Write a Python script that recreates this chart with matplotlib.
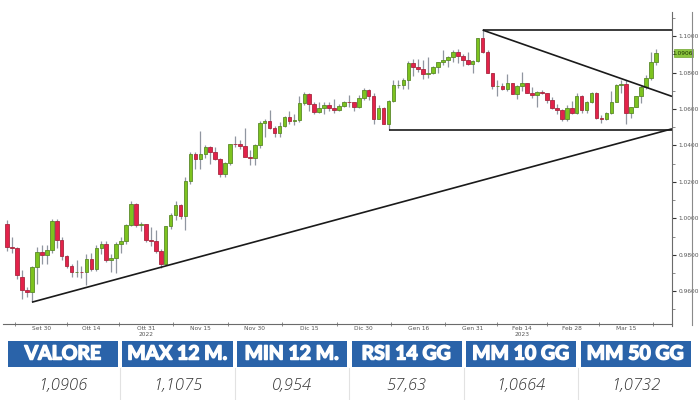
import matplotlib
matplotlib.use("Agg")
import matplotlib.pyplot as plt
import matplotlib.transforms as mtransforms
import matplotlib.patheffects as pe
from matplotlib.patches import Rectangle
import pandas as pd
import numpy as np

# ---------------- data ----------------
start_date = "2022-09-21"
end_date = "2023-03-23"

opens = [0.9970, 0.9840, 0.9838, 0.9680, 0.9608, 0.9594, 0.9735, 0.9815, 0.9801, 0.9824,
         0.9986, 0.9882, 0.9793, 0.9739, 0.9703, 0.9707, 0.9703, 0.9777, 0.9722, 0.9837,
         0.9857, 0.9774, 0.9781, 0.9860, 0.9877, 0.9965, 1.0077, 0.9963, 0.9967, 0.9882,
         0.9878, 0.9820, 0.9750, 0.9960, 1.0020, 1.0072, 1.0013, 1.0205, 1.0355, 1.0327,
         1.0353, 1.0392, 1.0362, 1.0324, 1.0243, 1.0302, 1.0408, 1.0407, 1.0397, 1.0338,
         1.0330, 1.0405, 1.0523, 1.0535, 1.0493, 1.0466, 1.0507, 1.0557, 1.0532, 1.0538,
         1.0631, 1.0680, 1.0628, 1.0583, 1.0605, 1.0622, 1.0606, 1.0596, 1.0615, 1.0640,
         1.0637, 1.0610, 1.0660, 1.0705, 1.0670, 1.0545, 1.0605, 1.0520, 1.0645, 1.0730,
         1.0733, 1.0760, 1.0850, 1.0830, 1.0820, 1.0790, 1.0795, 1.0830, 1.0855, 1.0870,
         1.0885, 1.0915, 1.0890, 1.0870, 1.0845, 1.0862, 1.0990, 1.0910, 1.0795, 1.0725,
         1.0727, 1.0712, 1.0740, 1.0680, 1.0725, 1.0740, 1.0690, 1.0675, 1.0694, 1.0685,
         1.0650, 1.0605, 1.0596, 1.0545, 1.0605, 1.0576, 1.0670, 1.0597, 1.0637, 1.0685,
         1.0550, 1.0545, 1.0580, 1.0640, 1.0731, 1.0735, 1.0578, 1.0610, 1.0670, 1.0718,
         1.0770, 1.0856]
highs = [0.9990, 0.9900, 0.9845, 0.9715, 0.9625, 0.9740, 0.9840, 0.9855, 0.9855, 0.9999,
         0.9999, 0.9900, 0.9800, 0.9750, 0.9770, 0.9740, 0.9807, 0.9810, 0.9855, 0.9875,
         0.9875, 0.9805, 0.9870, 0.9900, 0.9970, 1.0094, 1.0085, 0.9980, 0.9970, 0.9955,
         0.9935, 0.9830, 0.9960, 1.0030, 1.0095, 1.0080, 1.0225, 1.0365, 1.0365, 1.0480,
         1.0400, 1.0395, 1.0390, 1.0330, 1.0310, 1.0410, 1.0450, 1.0430, 1.0495, 1.0375,
         1.0410, 1.0535, 1.0545, 1.0595, 1.0505, 1.0530, 1.0560, 1.0590, 1.0570, 1.0670,
         1.0695, 1.0690, 1.0640, 1.0640, 1.0640, 1.0640, 1.0655, 1.0625, 1.0645, 1.0675,
         1.0640, 1.0675, 1.0715, 1.0710, 1.0685, 1.0620, 1.0610, 1.0650, 1.0760, 1.0760,
         1.0770, 1.0865, 1.0875, 1.0875, 1.0870, 1.0885, 1.0835, 1.0860, 1.0925, 1.0890,
         1.0925, 1.0930, 1.0900, 1.0915, 1.0870, 1.0990, 1.1033, 1.0925, 1.0800, 1.0760,
         1.0745, 1.0790, 1.0745, 1.0730, 1.0805, 1.0745, 1.0720, 1.0700, 1.0705, 1.0690,
         1.0665, 1.0625, 1.0600, 1.0620, 1.0645, 1.0690, 1.0675, 1.0645, 1.0695, 1.0695,
         1.0565, 1.0585, 1.0700, 1.0735, 1.0760, 1.0760, 1.0610, 1.0670, 1.0730, 1.0785,
         1.0910, 1.0930]
lows = [0.9820, 0.9810, 0.9668, 0.9560, 0.9570, 0.9540, 0.9640, 0.9750, 0.9750, 0.9810,
        0.9835, 0.9770, 0.9730, 0.9680, 0.9680, 0.9670, 0.9632, 0.9710, 0.9710, 0.9805,
        0.9760, 0.9705, 0.9700, 0.9810, 0.9860, 0.9960, 0.9955, 0.9930, 0.9870, 0.9850,
        0.9810, 0.9730, 0.9745, 0.9940, 0.9990, 0.9995, 0.9935, 1.0190, 1.0270, 1.0270,
        1.0330, 1.0300, 1.0320, 1.0225, 1.0225, 1.0290, 1.0390, 1.0380, 1.0385, 1.0290,
        1.0290, 1.0385, 1.0445, 1.0490, 1.0445, 1.0445, 1.0500, 1.0520, 1.0510, 1.0530,
        1.0620, 1.0590, 1.0570, 1.0580, 1.0570, 1.0590, 1.0580, 1.0590, 1.0610, 1.0610,
        1.0590, 1.0605, 1.0650, 1.0650, 1.0520, 1.0545, 1.0515, 1.0484, 1.0640, 1.0715,
        1.0710, 1.0710, 1.0780, 1.0805, 1.0765, 1.0770, 1.0790, 1.0800, 1.0840, 1.0830,
        1.0860, 1.0850, 1.0835, 1.0840, 1.0800, 1.0860, 1.0905, 1.0795, 1.0710, 1.0670,
        1.0705, 1.0700, 1.0680, 1.0655, 1.0700, 1.0690, 1.0660, 1.0610, 1.0680, 1.0630,
        1.0600, 1.0575, 1.0535, 1.0535, 1.0575, 1.0570, 1.0580, 1.0580, 1.0630, 1.0545,
        1.0525, 1.0540, 1.0575, 1.0640, 1.0690, 1.0516, 1.0550, 1.0610, 1.0630, 1.0710,
        1.0760, 1.0840]
closes = [0.9840, 0.9838, 0.9690, 0.9608, 0.9594, 0.9735, 0.9815, 0.9801, 0.9824, 0.9986,
          0.9882, 0.9793, 0.9739, 0.9703, 0.9707, 0.9703, 0.9777, 0.9722, 0.9837, 0.9857,
          0.9774, 0.9781, 0.9860, 0.9877, 0.9965, 1.0077, 0.9963, 0.9967, 0.9882, 0.9878,
          0.9820, 0.9750, 0.9960, 1.0020, 1.0072, 1.0013, 1.0205, 1.0355, 1.0327, 1.0353,
          1.0392, 1.0362, 1.0324, 1.0243, 1.0302, 1.0408, 1.0407, 1.0397, 1.0338, 1.0330,
          1.0405, 1.0523, 1.0535, 1.0493, 1.0466, 1.0507, 1.0557, 1.0532, 1.0538, 1.0631,
          1.0680, 1.0628, 1.0583, 1.0605, 1.0622, 1.0606, 1.0596, 1.0615, 1.0640, 1.0637,
          1.0610, 1.0660, 1.0705, 1.0670, 1.0545, 1.0605, 1.0520, 1.0645, 1.0730, 1.0733,
          1.0760, 1.0850, 1.0830, 1.0820, 1.0790, 1.0795, 1.0830, 1.0855, 1.0870, 1.0885,
          1.0915, 1.0890, 1.0870, 1.0845, 1.0862, 1.0990, 1.0910, 1.0795, 1.0725, 1.0727,
          1.0712, 1.0740, 1.0680, 1.0725, 1.0740, 1.0690, 1.0675, 1.0694, 1.0685, 1.0650,
          1.0605, 1.0596, 1.0545, 1.0605, 1.0576, 1.0670, 1.0597, 1.0637, 1.0685, 1.0550,
          1.0545, 1.0580, 1.0640, 1.0731, 1.0735, 1.0578, 1.0610, 1.0670, 1.0718, 1.0770,
          1.0856, 1.0906]

tick_dates = ["2022-09-30", "2022-10-14", "2022-10-31", "2022-11-15", "2022-11-30",
              "2022-12-15", "2022-12-30", "2023-01-16", "2023-01-31", "2023-02-14",
              "2023-02-28", "2023-03-15"]
tick_labels = ["Set 30", "Ott 14", "Ott 31", "Nov 15", "Nov 30", "Dic 15",
               "Dic 30", "Gen 16", "Gen 31", "Feb 14", "Feb 28", "Mar 15"]
year_dates = ["2022-10-31", "2023-02-14"]
year_labels = ["2022", "2023"]

# trend lines: (date, price) anchors; None date = right edge
top_line = [("2023-02-02", 1.1033), (None, 1.1033)]
down_line = [("2023-02-02", 1.1033), (None, 1.0669)]
support_line = [("2023-01-06", 1.0486), (None, 1.0486)]
up_line = [("2022-09-28", 0.9540), (None, 1.0491)]

last_price = 1.0906

table_headers = ["VALORE", "MAX 12 M.", "MIN 12 M.", "RSI 14 GG", "MM 10 GG", "MM 50 GG"]
table_values = ["1,0906", "1,1075", "0,954", "57,63", "1,0664", "1,0732"]

# ---------------- figure ----------------
W, H = 700, 400
fig = plt.figure(figsize=(7, 4), dpi=100)
fig.patch.set_facecolor("white")

ax_left, ax_right, ax_top, ax_bot = 3, 672, 12, 323.5
ax = fig.add_axes([ax_left / W, 1 - ax_bot / H, (ax_right - ax_left) / W, (ax_bot - ax_top) / H])

dates = pd.bdate_range(start_date, end_date)
date_idx = {d.strftime("%Y-%m-%d"): i for i, d in enumerate(dates)}
x = np.arange(len(dates))

xmin, xmax = -0.85, 134.25
ymin, ymax = 0.9423, 1.1132
ax.set_xlim(xmin, xmax)
ax.set_ylim(ymin, ymax)

green = "#7DC31F"
green_edge = "#5A8A2A"
red = "#E3224A"
red_edge = "#A8283F"
wick = "#9096A0"

o = np.array(opens); c = np.array(closes); hi = np.array(highs); lo = np.array(lows)
up = c >= o
ax.vlines(x, lo, hi, color=wick, linewidth=0.9, zorder=2)
body_h = np.abs(c - o)
body_b = np.minimum(o, c)
ax.bar(x[up], body_h[up], bottom=body_b[up], width=0.72, color=green,
       edgecolor=green_edge, linewidth=0.6, zorder=3)
ax.bar(x[~up], body_h[~up], bottom=body_b[~up], width=0.72, color=red,
       edgecolor=red_edge, linewidth=0.6, zorder=3)


def anchor_x(d):
    return xmax if d is None else date_idx[d]


for line in (top_line, down_line, support_line, up_line):
    xs = [anchor_x(d) for d, _ in line]
    ys = [p for _, p in line]
    ax.plot(xs, ys, color="#1a1a1a", linewidth=1.2, zorder=4, solid_capstyle="butt")

# axes styling
for s in ("left", "top"):
    ax.spines[s].set_visible(False)
ax.spines["bottom"].set_color("#6b6b6b")
ax.spines["right"].set_color("#6b6b6b")
ax.spines["bottom"].set_linewidth(0.8)
ax.spines["right"].set_linewidth(0.8)

ax.yaxis.tick_right()
yt = [0.96, 0.98, 1.00, 1.02, 1.04, 1.06, 1.08, 1.10]
ax.set_yticks(yt)
ax.set_yticklabels([f"{v:.4f}" for v in yt])
ax.set_yticks([0.95, 0.97, 0.99, 1.01, 1.03, 1.05, 1.07, 1.09, 1.11], minor=True)
ax.tick_params(axis="y", which="major", length=3, width=0.8, color="#333333",
               labelsize=4.2, labelcolor="#555555", pad=1.5)
ax.tick_params(axis="y", which="minor", length=2, width=0.6, color="#777777")

xt = [date_idx[d] for d in tick_dates]
ax.set_xticks(xt)
ax.set_xticklabels(tick_labels)
mids = [xt[0] - 5.5] + [(a + b) / 2 for a, b in zip(xt[:-1], xt[1:])] + [xt[-1] + 5.5]
ax.set_xticks(mids, minor=True)
ax.tick_params(axis="x", which="major", length=0, labelsize=4.2, labelcolor="#555555", pad=2)
ax.tick_params(axis="x", which="minor", length=2.5, width=0.6, color="#777777", direction="inout")

tr = mtransforms.blended_transform_factory(ax.transData, fig.transFigure)
for d, lab in zip(year_dates, year_labels):
    ax.text(date_idx[d], 1 - 334.5 / H, lab, transform=tr, fontsize=4.2, color="#555555",
            ha="center", va="center")

# last price tag
trp = mtransforms.blended_transform_factory(fig.transFigure, ax.transData)
fig.patches.append(Rectangle((673.5 / W, last_price - 0.0022), 19 / W, 0.0044,
                             transform=trp, facecolor="#8CC63F", edgecolor="#6FA52E",
                             linewidth=0.5))
fig.text(683 / W, last_price, f"{last_price:.4f}", transform=trp, fontsize=4.2,
         color="#1a3300", ha="center", va="center")

# right border of label panel
fig.add_artist(plt.Line2D([692 / W, 692 / W], [1 - 12 / H, 1 - 325 / H],
                          transform=fig.transFigure, color="#8a8a8a", linewidth=0.8))
fig.add_artist(plt.Line2D([672 / W, 672 / W], [1 - 323.5 / H, 1 - 326 / H],
                          transform=fig.transFigure, color="#6b6b6b", linewidth=0.8))

# ---------------- table ----------------
blue = "#2A63A9"
box_w = 110
step = 114.5
x0 = 8
hdr_top, hdr_bot = 340.5, 366.5
for i, (hname, val) in enumerate(zip(table_headers, table_values)):
    bx = x0 + i * step
    fig.patches.append(Rectangle((bx / W, 1 - hdr_bot / H), box_w / W, (hdr_bot - hdr_top) / H,
                                 transform=fig.transFigure, facecolor=blue, edgecolor="none"))
    fig.text((bx + box_w / 2) / W, 1 - 354 / H, hname, fontsize=14, fontweight="bold",
             family=["Lato", "DejaVu Sans"], color="white", ha="center", va="center",
             path_effects=[pe.withStroke(linewidth=1.1, foreground="white")])
    fig.text((bx + box_w / 2) / W, 1 - 386.5 / H, val, fontsize=12, style="italic",
             fontweight="light", family=["Open Sans", "DejaVu Sans"], color="#333333",
             ha="center", va="center")
    if i > 0:
        sx = bx - (step - box_w) / 2
        fig.add_artist(plt.Line2D([sx / W, sx / W], [1 - 368 / H, 0],
                                  transform=fig.transFigure, color="#e2e2e2", linewidth=0.8))

fig.savefig("out.png", dpi=100, facecolor="white")
